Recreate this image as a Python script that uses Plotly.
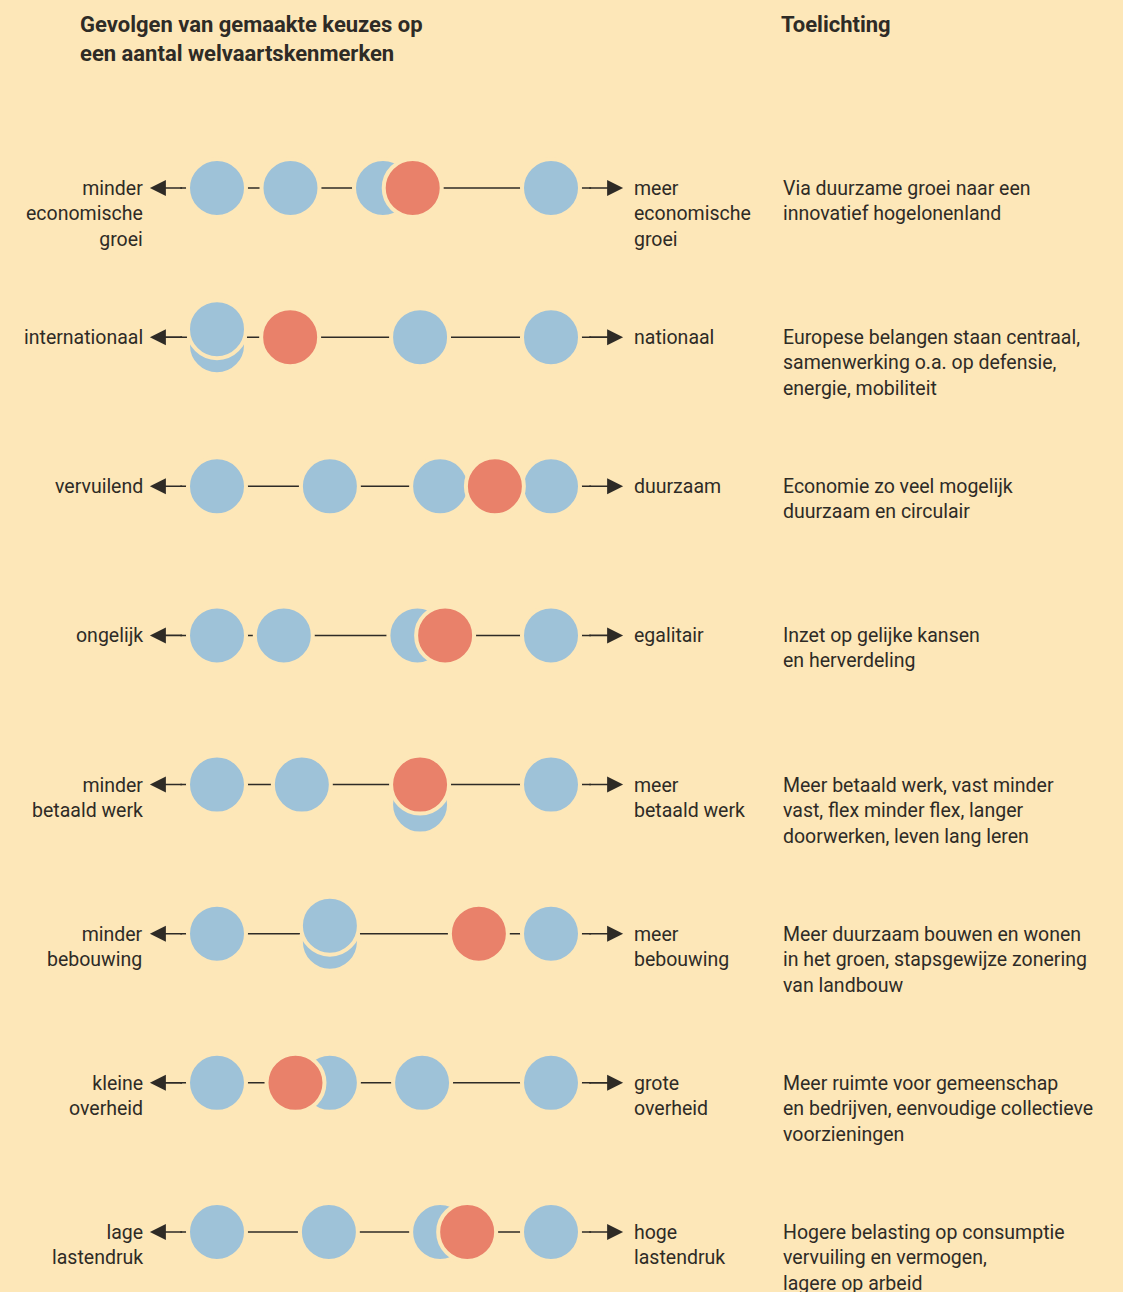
import plotly.graph_objects as go

# scores per row on a 0 (left pole) .. 100 (right pole) scale
leftLabels = ["minder<br>economische<br>groei", "internationaal", "vervuilend", "ongelijk",
              "minder<br>betaald werk", "minder<br>bebouwing", "kleine<br>overheid", "lage<br>lastendruk"]
rightLabels = ["meer<br>economische<br>groei", "nationaal", "duurzaam", "egalitair",
               "meer<br>betaald werk", "meer<br>bebouwing", "grote<br>overheid", "hoge<br>lastendruk"]
descriptions = [
    "Via duurzame groei naar een<br>innovatief hogelonenland",
    "Europese belangen staan centraal,<br>samenwerking o.a. op defensie,<br>energie, mobiliteit",
    "Economie zo veel mogelijk<br>duurzaam en circulair",
    "Inzet op gelijke kansen<br>en herverdeling",
    "Meer betaald werk, vast minder<br>vast, flex minder flex, langer<br>doorwerken, leven lang leren",
    "Meer duurzaam bouwen en wonen<br>in het groen, stapsgewijze zonering<br>van landbouw",
    "Meer ruimte voor gemeenschap<br>en bedrijven, eenvoudige collectieve<br>voorzieningen",
    "Hogere belasting op consumptie<br>vervuiling en vermogen,<br>lagere op arbeid",
]
blueScores = [
    [0, 22, 49.7, 100],
    [0, 0, 60.8, 100],
    [0, 33.8, 66.8, 100],
    [0, 20, 60, 100],
    [0, 25.4, 60.8, 100],
    [0, 33.8, 33.8, 100],
    [0, 33.8, 61.4, 100],
    [0, 33.5, 66.8, 100],
]
redScores = [58.6, 21.9, 83.2, 68.3, 60.8, 78.4, 23.5, 74.9]

bgColor = "#FDE7B8"
blueColor = "#9EC2D8"
redColor = "#E9816A"
inkColor = "#2E2B26"
font = "Roboto"

W, H = 1123, 1292
pxPerScore = 3.34
pxPerRow = 149.14
xRange = [-217 / pxPerScore, (W - 217) / pxPerScore]
yRange = [(H - 188) / pxPerRow, -188 / pxPerRow]


def px_to_row(px):
    return px / pxPerRow


# blue circles: duplicates stacked, blue under a red circle pushed down
blueX, blueY = [], []
for row, scores in enumerate(blueScores):
    pts = []
    for s in sorted(set(scores)):
        n = scores.count(s)
        if n == 2:
            pts.append((s, row + px_to_row(8), 0))
            pts.append((s, row - px_to_row(8), 1))
        elif abs(s - redScores[row]) < 0.5:
            pts.append((s, row + px_to_row(20), 0))
        else:
            pts.append((s, row, 1))
    pts.sort(key=lambda p: p[2])
    for s, y, _ in pts:
        blueX.append(s)
        blueY.append(y)

fig = go.Figure()

lineStart, lineEnd = -11, 112
for row in range(len(leftLabels)):
    fig.add_trace(go.Scatter(x=[lineStart, lineEnd], y=[row, row], mode="lines",
                             line={"color": inkColor, "width": 1.5}, hoverinfo="skip", showlegend=False))
    fig.add_annotation(x=-20.1, y=row, ax=lineStart + 1, ay=row, xref="x", yref="y", axref="x", ayref="y",
                       text="", showarrow=True, arrowhead=2, arrowsize=2.0, arrowwidth=1.6, arrowcolor=inkColor)
    fig.add_annotation(x=121.6, y=row, ax=lineEnd - 1, ay=row, xref="x", yref="y", axref="x", ayref="y",
                       text="", showarrow=True, arrowhead=2, arrowsize=2.0, arrowwidth=1.6, arrowcolor=inkColor)

fig.add_trace(go.Scatter(x=blueX, y=blueY, mode="markers",
                         marker={"size": 58, "color": blueColor, "line": {"color": bgColor, "width": 4}},
                         showlegend=False, hoverinfo="skip"))
fig.add_trace(go.Scatter(x=redScores, y=list(range(len(redScores))), mode="markers",
                         marker={"size": 58, "color": redColor, "line": {"color": bgColor, "width": 4}},
                         showlegend=False, hoverinfo="skip"))

textFont = {"family": font, "size": 19.5, "color": inkColor}
for row in range(len(leftLabels)):
    fig.add_annotation(x=145 / W, xref="paper", y=row, yref="y", text=leftLabels[row], showarrow=False,
                       xanchor="right", yanchor="top", align="right", yshift=13, font=textFont)
    fig.add_annotation(x=632 / W, xref="paper", y=row, yref="y", text=rightLabels[row], showarrow=False,
                       xanchor="left", yanchor="top", align="left", yshift=13, font=textFont)
    fig.add_annotation(x=781 / W, xref="paper", y=row, yref="y", text=descriptions[row], showarrow=False,
                       xanchor="left", yanchor="top", align="left", yshift=13, font=textFont)

titleFont = {"family": font, "size": 22, "color": inkColor}
fig.add_annotation(x=78 / W, xref="paper", y=1, yref="paper", yshift=-10, text="<b>Gevolgen van gemaakte keuzes op<br>een aantal welvaartskenmerken</b>",
                   showarrow=False, xanchor="left", yanchor="top", align="left", font=titleFont)
fig.add_annotation(x=779 / W, xref="paper", y=1, yref="paper", yshift=-10, text="<b>Toelichting</b>",
                   showarrow=False, xanchor="left", yanchor="top", align="left", font=titleFont)

fig.update_layout(width=W, height=H, margin={"l": 0, "r": 0, "t": 0, "b": 0},
                  paper_bgcolor=bgColor, plot_bgcolor=bgColor,
                  xaxis={"range": xRange, "visible": False, "fixedrange": True},
                  yaxis={"range": yRange, "visible": False, "fixedrange": True})

fig.write_html("out.html", config={"displayModeBar": False},
               post_script="document.body.style.margin='0';document.body.style.background='" + bgColor + "';")
